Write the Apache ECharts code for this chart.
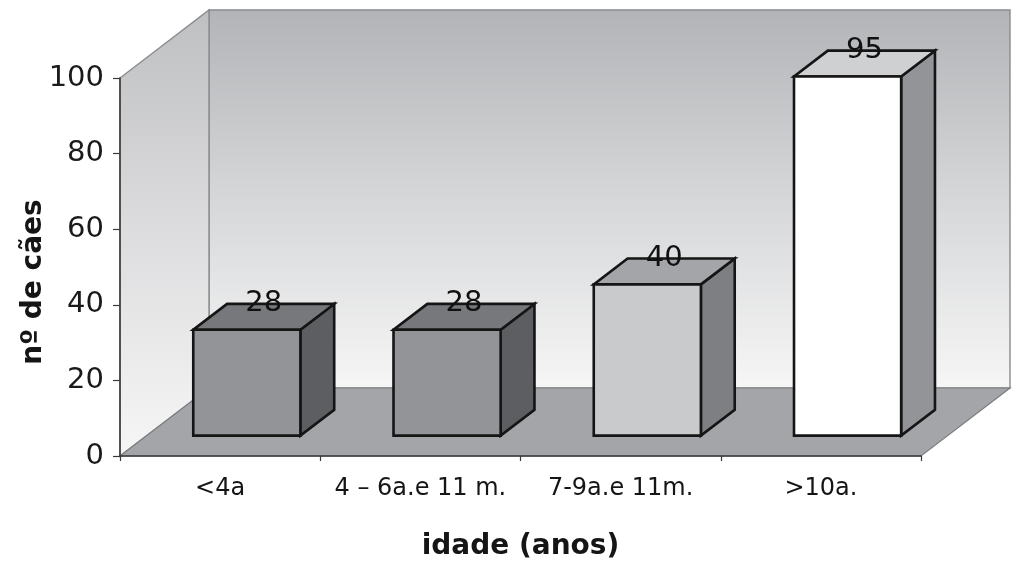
<!DOCTYPE html>
<html>
<head>
<meta charset="utf-8">
<script src="https://cdn.jsdelivr.net/npm/echarts@6/dist/echarts.min.js"></script>
<style>
  html, body { margin: 0; padding: 0; background: #ffffff; }
  #chart { width: 1016px; height: 564px; }
</style>
</head>
<body>
<div id="chart"></div>
<script>
// Age groups and number of dogs in each
const categories = ['<4a', '4 – 6a.e 11 m.', '7-9a.e 11m.', '>10a.'];
const dogCounts = [28, 28, 40, 95];
const yTickValues = [0, 20, 40, 60, 80, 100];

const xTitle = 'idade (anos)';
const yTitle = 'nº de cães';

// Shading for each block: front, top and right-side faces
const barShades = [
  { front: '#939497', top: '#77787b', side: '#5d5e61' },
  { front: '#939497', top: '#77787b', side: '#5d5e61' },
  { front: '#c9cacc', top: '#a4a5a8', side: '#7e7f82' },
  { front: '#ffffff', top: '#cfd0d2', side: '#939497' }
];

// Oblique projection used for the pseudo-3D look (pixels for full depth)
const DEPTH = [89, -68];
const FRONT_DEPTH = 0.30;
const BACK_DEPTH = 0.68;
const BAR_WIDTH_RATIO = 0.535;
const FONT = '"DejaVu Sans", "Liberation Sans", Arial, sans-serif';

function renderWalls(params, api) {
  const cs = params.coordSys;
  const L = cs.x, R = cs.x + cs.width, T = cs.y, B = cs.y + cs.height;
  const dx = DEPTH[0], dy = DEPTH[1];
  const edge = { stroke: '#8a8b8e', lineWidth: 1.4 };
  return {
    type: 'group',
    children: [
      {
        type: 'polygon',
        shape: { points: [[L + dx, T + dy], [R + dx, T + dy], [R + dx, B + dy], [L + dx, B + dy]] },
        style: Object.assign({
          fill: new echarts.graphic.LinearGradient(0, 0, 0, 1, [
            { offset: 0, color: '#b3b4b7' },
            { offset: 0.5, color: '#d6d7d9' },
            { offset: 1, color: '#f6f6f6' }
          ])
        }, edge)
      },
      {
        type: 'polygon',
        shape: { points: [[L, B], [L, T], [L + dx, T + dy], [L + dx, B + dy]] },
        style: Object.assign({
          fill: new echarts.graphic.LinearGradient(0, 0, 0, 1, [
            { offset: 0, color: '#bebfc1' },
            { offset: 0.5, color: '#dddddf' },
            { offset: 1, color: '#f6f6f6' }
          ])
        }, edge)
      },
      {
        type: 'polygon',
        shape: { points: [[L, B], [R, B], [R + dx, B + dy], [L + dx, B + dy]] },
        style: { fill: '#a4a5a8', stroke: '#7d7e81', lineWidth: 1.2 }
      }
    ]
  };
}

function renderBar(params, api) {
  const i = api.value(0);
  const v = api.value(1);
  const base = api.coord([i, 0]);
  const top = api.coord([i, v]);
  const bw = api.size([1, 0])[0] * BAR_WIDTH_RATIO;
  const fx = DEPTH[0] * FRONT_DEPTH, fy = DEPTH[1] * FRONT_DEPTH;
  const ddx = DEPTH[0] * (BACK_DEPTH - FRONT_DEPTH);
  const ddy = DEPTH[1] * (BACK_DEPTH - FRONT_DEPTH);
  const xl = base[0] - bw / 2 + fx;
  const xr = xl + bw;
  const yb = base[1] + fy;
  const yt = top[1] + fy;
  const shade = barShades[params.dataIndex];
  const line = { stroke: '#151515', lineWidth: 2.6, lineJoin: 'miter' };
  return {
    type: 'group',
    children: [
      {
        type: 'polygon',
        shape: { points: [[xr, yb], [xr, yt], [xr + ddx, yt + ddy], [xr + ddx, yb + ddy]] },
        style: Object.assign({ fill: shade.side }, line)
      },
      {
        type: 'polygon',
        shape: { points: [[xl, yt], [xr, yt], [xr + ddx, yt + ddy], [xl + ddx, yt + ddy]] },
        style: Object.assign({ fill: shade.top }, line)
      },
      {
        type: 'rect',
        shape: { x: xl, y: yt, width: bw, height: yb - yt },
        style: Object.assign({ fill: shade.front }, line)
      },
      {
        type: 'text',
        style: {
          text: String(v),
          x: (xl + xr + ddx) / 2,
          y: yt + ddy,
          align: 'center',
          verticalAlign: 'middle',
          fontFamily: FONT,
          fontSize: 29,
          fill: '#111111'
        }
      }
    ]
  };
}

const chart = echarts.init(document.getElementById('chart'), null, { renderer: 'canvas' });

chart.setOption({
  backgroundColor: '#ffffff',
  animation: false,
  grid: { left: 120, right: 95, top: 78, bottom: 108, containLabel: false, outerBoundsMode: 'none' },
  xAxis: {
    type: 'category',
    data: categories,
    name: xTitle,
    nameLocation: 'middle',
    nameGap: 77,
    nameTextStyle: { fontFamily: FONT, fontSize: 28, fontWeight: 'bold', color: '#151515' },
    axisLine: { show: true, lineStyle: { color: '#3a3a3a', width: 1.6 } },
    axisTick: { show: true, length: 5, interval: 0, lineStyle: { color: '#3a3a3a', width: 1.2 } },
    axisLabel: { interval: 0, fontFamily: FONT, fontSize: 24, color: '#151515', margin: 21 },
    splitLine: { show: false },
    z: 3
  },
  yAxis: {
    type: 'value',
    min: yTickValues[0],
    max: yTickValues[yTickValues.length - 1],
    interval: yTickValues[1] - yTickValues[0],
    name: yTitle,
    nameLocation: 'middle',
    nameGap: 72,
    nameRotate: 90,
    nameMoveOverlap: false,
    nameTextStyle: { fontFamily: FONT, fontSize: 28, fontWeight: 'bold', color: '#151515', padding: [0, 30, 0, 0] },
    axisLine: { show: true, lineStyle: { color: '#3a3a3a', width: 1.6 } },
    axisTick: { show: true, length: 7, lineStyle: { color: '#3a3a3a', width: 1.2 } },
    axisLabel: { fontFamily: FONT, fontSize: 29, color: '#1a1a1a', margin: 16 },
    splitLine: { show: false },
    z: 3
  },
  series: [
    {
      type: 'custom',
      name: 'walls',
      silent: true,
      z: -1,
      renderItem: renderWalls,
      data: [[0, 0]]
    },
    {
      type: 'custom',
      name: 'dogs',
      silent: true,
      z: 2,
      renderItem: renderBar,
      encode: { x: 0, y: 1 },
      data: dogCounts.map(function (v, i) { return [i, v]; })
    }
  ]
});
</script>
</body>
</html>
